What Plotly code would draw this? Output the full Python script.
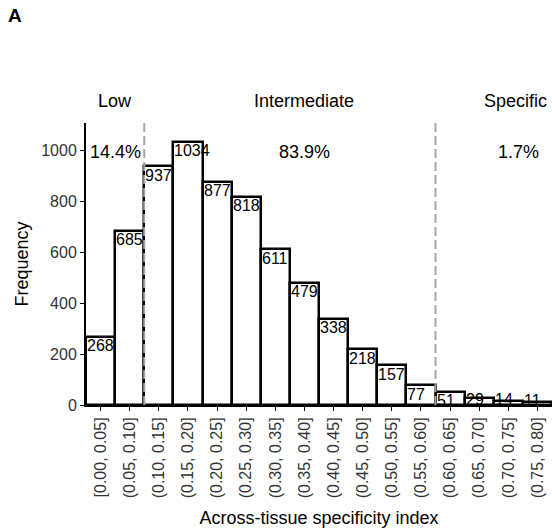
import plotly.graph_objects as go

categories = ["[0.00, 0.05]", "(0.05, 0.10]", "(0.10, 0.15]", "(0.15, 0.20]",
              "(0.20, 0.25]", "(0.25, 0.30]", "(0.30, 0.35]", "(0.35, 0.40]",
              "(0.40, 0.45]", "(0.45, 0.50]", "(0.50, 0.55]", "(0.55, 0.60]",
              "(0.60, 0.65]", "(0.65, 0.70]", "(0.70, 0.75]", "(0.75, 0.80]"]
counts = [268, 685, 937, 1034, 877, 818, 611, 479, 338, 218, 157, 77, 51, 29, 14, 11]
group_names = ["Low", "Intermediate", "Specific"]
group_pcts = ["14.4%", "83.9%", "1.7%"]
cut_bins = [0.10, 0.60]  # boundaries of the groups
yticks = [0, 200, 400, 600, 800, 1000]

FONT = "Liberation Sans, Arial, sans-serif"
n = len(categories)
idx = list(range(n))
YMAX = 1107
PLOT_H = 529 - 123 - 124
PX_PER_UNIT = PLOT_H / YMAX

fig = go.Figure()
fig.add_trace(go.Bar(
    x=idx, y=counts,
    marker=dict(color="white", line=dict(color="black", width=2.5)),
    width=1.0, showlegend=False, hoverinfo="x+y",
))

# bar count labels, left aligned at the bar's left edge just under its top
for i, c in enumerate(counts):
    shift = -min(9.0, c * PX_PER_UNIT - 5)
    fig.add_annotation(x=i - 0.5, y=c, text=str(c), showarrow=False,
                       xanchor="left", yanchor="middle", xshift=-1, yshift=shift,
                       font=dict(family=FONT, size=16, color="black"))

# dashed group boundaries
for b in cut_bins:
    pos = b / 0.05 - 0.5
    fig.add_shape(type="line", x0=pos, x1=pos, xref="x", y0=0, y1=1, yref="paper",
                  line=dict(color="#A6A6A6", width=2, dash="9px,4px"), layer="above")

head_x = [0.5, 7.0, 14.25]
pct_x = [0.5, 7.0, 14.35]
for hx, name in zip(head_x, group_names):
    fig.add_annotation(x=hx, y=1.077, yref="paper", text=name, showarrow=False,
                       xanchor="center", yanchor="middle",
                       font=dict(family=FONT, size=18, color="black"))
for px, p in zip(pct_x, group_pcts):
    fig.add_annotation(x=px, y=995, text=p, showarrow=False,
                       xanchor="center", yanchor="middle",
                       font=dict(family=FONT, size=18, color="black"))

# panel tag
fig.add_annotation(x=(15 - 86) / 466, y=(529 - 124 - 15.5) / PLOT_H,
                   xref="paper", yref="paper", text="<b>A</b>",
                   showarrow=False, xanchor="center", yanchor="middle",
                   font=dict(family=FONT, size=19, color="black"))

fig.update_layout(
    width=552, height=529,
    margin=dict(l=86, r=0, t=123, b=124),
    paper_bgcolor="white", plot_bgcolor="white",
    bargap=0,
    font=dict(family=FONT, size=16, color="black"),
)

fig.update_xaxes(
    tickmode="array", tickvals=idx, ticktext=categories, tickangle=-90,
    range=[-0.5, n - 0.5], showline=True, linecolor="black", linewidth=2,
    ticks="outside", ticklen=4, tickcolor="black", tickwidth=1,
    tickfont=dict(family=FONT, size=16, color="#333333"),
    showgrid=False, zeroline=False,
    title=dict(text="Across-tissue specificity index", standoff=14,
               font=dict(family=FONT, size=18, color="black")),
)
fig.update_yaxes(
    range=[0, YMAX], tickvals=yticks, showline=True, linecolor="black", linewidth=2,
    ticks="outside", ticklen=4, tickcolor="black", tickwidth=1,
    tickfont=dict(family=FONT, size=16, color="#333333"),
    showgrid=False, zeroline=False,
    title=dict(text="Frequency", standoff=8,
               font=dict(family=FONT, size=18, color="black")),
)

fig.write_html("out.html")
